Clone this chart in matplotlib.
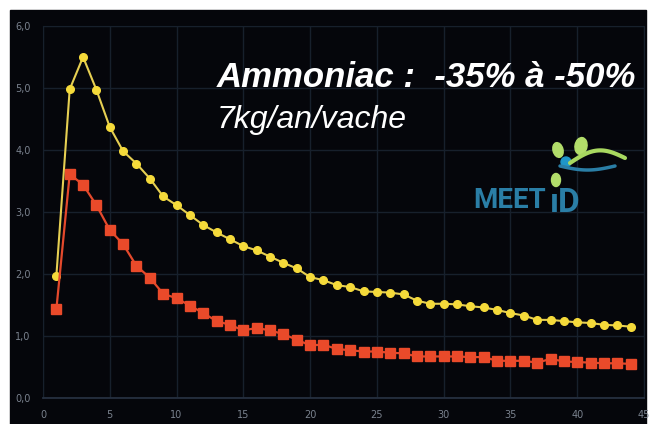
import matplotlib.pyplot as plt
import numpy as np
from matplotlib.patches import Rectangle, Ellipse, Circle
from matplotlib.ticker import FuncFormatter, MultipleLocator

# Données
jours = list(range(1, 45))
temoin = [1.97, 4.98, 5.50, 4.97, 4.37, 3.98, 3.78, 3.54, 3.25, 3.11,
          2.95, 2.79, 2.67, 2.56, 2.45, 2.38, 2.28, 2.18, 2.09, 1.95,
          1.90, 1.82, 1.79, 1.72, 1.71, 1.70, 1.67, 1.57, 1.52, 1.52,
          1.51, 1.48, 1.46, 1.42, 1.37, 1.33, 1.26, 1.26, 1.24, 1.22,
          1.21, 1.18, 1.17, 1.15]
meetid = [1.43, 3.61, 3.44, 3.11, 2.71, 2.48, 2.13, 1.94, 1.68, 1.61,
          1.49, 1.37, 1.24, 1.18, 1.09, 1.13, 1.09, 1.03, 0.94, 0.85,
          0.86, 0.79, 0.77, 0.75, 0.75, 0.73, 0.72, 0.67, 0.67, 0.67,
          0.67, 0.66, 0.66, 0.60, 0.60, 0.60, 0.57, 0.63, 0.59, 0.58,
          0.57, 0.56, 0.56, 0.55]
titre = "Ammoniac :  -35% à -50%"
sous_titre = "7kg/an/vache"

W, H = 649, 424
fig = plt.figure(figsize=(W / 100, H / 100), dpi=100)
fig.patch.set_facecolor('white')

# Fond noir (cadre blanc à gauche, en haut et à droite)
fond = fig.add_axes([0, 0, 1, 1], zorder=0)
fond.set_xlim(0, W)
fond.set_ylim(H, 0)
fond.axis('off')
fond.add_patch(Rectangle((10, 10), 636, 414, color='#05060b'))

# Zone du graphique
ax = fig.add_axes([43 / W, 1 - 398 / H, 601 / W, 372 / H], zorder=1)
ax.set_facecolor('#05060b')
ax.set_xlim(0, 45)
ax.set_ylim(0, 6)
ax.xaxis.set_major_locator(MultipleLocator(5))
ax.yaxis.set_major_locator(MultipleLocator(1))
ax.yaxis.set_major_formatter(FuncFormatter(lambda v, p: f"{v:.1f}".replace('.', ',')))
ax.tick_params(length=0, colors='#7a828e', labelsize=7, pad=9)
ax.grid(True, color='#17202c', lw=1)
for s in ax.spines.values():
    s.set_color('#17202c')
ax.spines['bottom'].set_color('#263040')
ax.spines['bottom'].set_linewidth(1.3)

# Courbes
ax.plot(jours, temoin, color='#e6cf52', lw=1.5, marker='o', ms=5.5,
        mfc='#f5da3a', mec='#f5da3a', clip_on=False, zorder=3)
ax.plot(jours, meetid, color='#e4492c', lw=1.6, marker='s', ms=7,
        mfc='#ea4a2a', mec='#ea4a2a', clip_on=False, zorder=3)

# Textes
over = fig.add_axes([0, 0, 1, 1], zorder=2)
over.set_xlim(0, W)
over.set_ylim(H, 0)
over.axis('off')
over.text(217, 87, titre, color='white', fontsize=25, fontweight='bold',
          fontstyle='italic', family='Liberation Sans', va='baseline')
over.text(217, 128, sous_titre, color='white', fontsize=23,
          fontstyle='italic', family='Liberation Sans', va='baseline')

# Logo MEET iD
over.text(473, 208, "MEET", color='#2a7ea6', fontsize=20, fontweight='bold',
          family='Roboto', va='baseline')
over.text(550, 212, "ıD", color='#2a7ea6', fontsize=24, fontweight='bold',
          family='Roboto', va='baseline')
over.add_patch(Ellipse((558, 150), 10, 15, angle=-15, color='#b2dd6a'))
over.add_patch(Ellipse((581, 146), 12, 17, angle=10, color='#b2dd6a'))
over.add_patch(Ellipse((556, 180), 9, 13, color='#b2dd6a'))
t = np.linspace(0, 1, 50)
over.plot(570 + 55 * t, 163 - 10 * np.sin(np.pi * t) - 5 * t, color='#a8d860', lw=3, solid_capstyle='round')
over.plot(560 + 55 * t, 166 + 4 * np.sin(np.pi * t), color='#2a7ea6', lw=2.5, solid_capstyle='round')
over.add_patch(Circle((566, 162), 5, color='#1f96c8'))

fig.savefig('out.png', dpi=100, facecolor='white')
